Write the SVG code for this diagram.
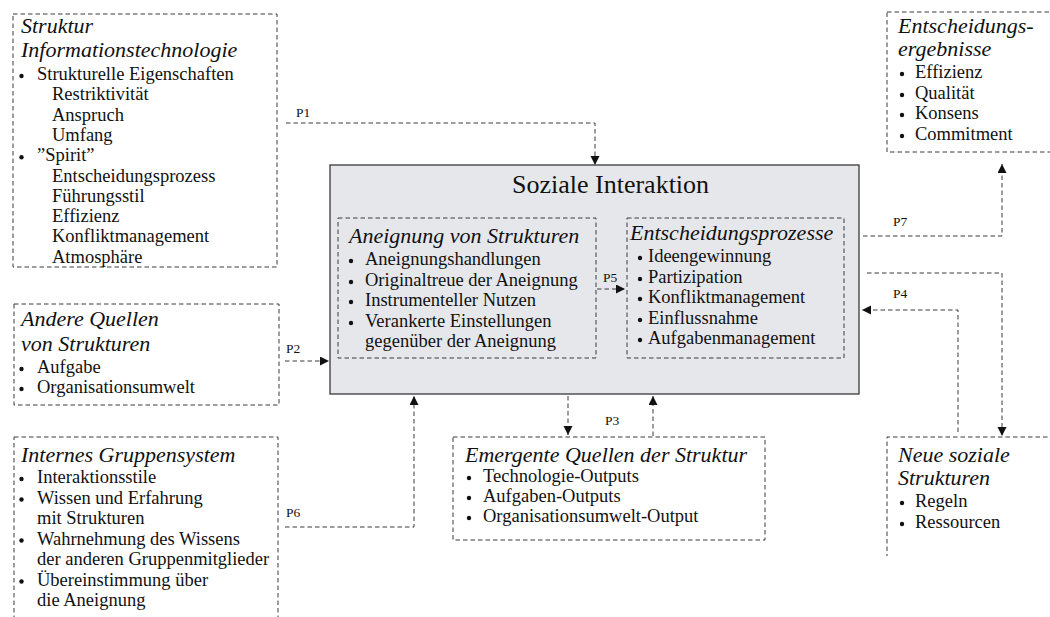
<svg xmlns="http://www.w3.org/2000/svg" width="1050" height="617" viewBox="0 0 1050 617">
<style>
.box{fill:none;stroke:#3a3a3a;stroke-width:1;stroke-dasharray:4.5 3}
.main{fill:#e6e7eb;stroke:#3a3a3a;stroke-width:1.3}
.t{font-family:"Liberation Serif",serif;font-size:18.5px;fill:#111}
.h{font-family:"Liberation Serif",serif;font-size:22px;font-style:italic;fill:#111}
.big{font-family:"Liberation Serif",serif;font-size:26px;fill:#111}
.p{font-family:"Liberation Serif",serif;font-size:13.5px;fill:#111}
.b{fill:#111}
.c{fill:none;stroke:#3a3a3a;stroke-width:1;stroke-dasharray:4.5 3}
</style>
<defs>
<marker id="ar" markerUnits="userSpaceOnUse" markerWidth="10" markerHeight="10" refX="9" refY="4.5" orient="auto">
<path d="M0,0 L9,4.5 L0,9 z" fill="#111"/>
</marker>
</defs>

<g id="struktur-it">
<rect class="box" x="13" y="14" width="264" height="253"/>
<text class="h" x="21" y="33">Struktur</text>
<text class="h" x="21" y="57">Informationstechnologie</text>
<circle class="b" cx="21.5" cy="76" r="2.2"/>
<text class="t" x="37" y="80">Strukturelle Eigenschaften</text>
<text class="t" x="52" y="100.3">Restriktivität</text>
<text class="t" x="52" y="120.6">Anspruch</text>
<text class="t" x="52" y="140.9">Umfang</text>
<circle class="b" cx="21.5" cy="157.2" r="2.2"/>
<text class="t" x="37" y="161.2">”Spirit”</text>
<text class="t" x="52" y="181.5">Entscheidungsprozess</text>
<text class="t" x="52" y="201.8">Führungsstil</text>
<text class="t" x="52" y="222.1">Effizienz</text>
<text class="t" x="52" y="242.4">Konfliktmanagement</text>
<text class="t" x="52" y="262.7">Atmosphäre</text>
</g>

<g id="andere-quellen">
<rect class="box" x="14" y="304" width="265" height="101"/>
<text class="h" x="21" y="326">Andere Quellen</text>
<text class="h" x="21" y="351">von Strukturen</text>
<circle class="b" cx="21.5" cy="369" r="2.2"/>
<text class="t" x="37" y="373">Aufgabe</text>
<circle class="b" cx="21.5" cy="389" r="2.2"/>
<text class="t" x="37" y="393">Organisationsumwelt</text>
</g>

<g id="internes-gruppensystem">
<rect class="box" x="14" y="437" width="264" height="195"/>
<text class="h" x="21" y="462">Internes Gruppensystem</text>
<circle class="b" cx="21.5" cy="479" r="2.2"/>
<text class="t" x="37" y="483">Interaktionsstile</text>
<circle class="b" cx="21.5" cy="499.5" r="2.2"/>
<text class="t" x="37" y="503.5">Wissen und Erfahrung</text>
<text class="t" x="37" y="524">mit Strukturen</text>
<circle class="b" cx="21.5" cy="540.5" r="2.2"/>
<text class="t" x="37" y="544.5">Wahrnehmung des Wissens</text>
<text class="t" x="37" y="565">der anderen Gruppenmitglieder</text>
<circle class="b" cx="21.5" cy="581.5" r="2.2"/>
<text class="t" x="37" y="585.5">Übereinstimmung über</text>
<text class="t" x="37" y="606">die Aneignung</text>
</g>

<g id="soziale-interaktion">
<rect class="main" x="330" y="165" width="529" height="229"/>
<text class="big" x="512" y="193">Soziale Interaktion</text>
</g>

<g id="aneignung">
<rect class="box" x="338" y="218" width="258" height="140"/>
<text class="h" x="349" y="243">Aneignung von Strukturen</text>
<circle class="b" cx="351" cy="261" r="2.2"/>
<text class="t" x="365" y="265">Aneignungshandlungen</text>
<circle class="b" cx="351" cy="282" r="2.2"/>
<text class="t" x="365" y="286">Originaltreue der Aneignung</text>
<circle class="b" cx="351" cy="302" r="2.2"/>
<text class="t" x="365" y="306">Instrumenteller Nutzen</text>
<circle class="b" cx="351" cy="323" r="2.2"/>
<text class="t" x="365" y="327">Verankerte Einstellungen</text>
<text class="t" x="365" y="347">gegenüber der Aneignung</text>
</g>

<g id="entscheidungsprozesse">
<rect class="box" x="627" y="218" width="217" height="140"/>
<text class="h" x="630" y="240">Entscheidungsprozesse</text>
<circle class="b" cx="640" cy="258" r="2.2"/>
<text class="t" x="648" y="262">Ideengewinnung</text>
<circle class="b" cx="640" cy="279" r="2.2"/>
<text class="t" x="648" y="283">Partizipation</text>
<circle class="b" cx="640" cy="299" r="2.2"/>
<text class="t" x="648" y="303">Konfliktmanagement</text>
<circle class="b" cx="640" cy="320" r="2.2"/>
<text class="t" x="648" y="324">Einflussnahme</text>
<circle class="b" cx="640" cy="340" r="2.2"/>
<text class="t" x="648" y="344">Aufgabenmanagement</text>
</g>

<g id="emergente-quellen">
<rect class="box" x="453" y="437" width="312" height="103"/>
<text class="h" x="465" y="462">Emergente Quellen der Struktur</text>
<circle class="b" cx="469" cy="478" r="2.2"/>
<text class="t" x="483" y="482">Technologie-Outputs</text>
<circle class="b" cx="469" cy="498" r="2.2"/>
<text class="t" x="483" y="502">Aufgaben-Outputs</text>
<circle class="b" cx="469" cy="518" r="2.2"/>
<text class="t" x="483" y="522">Organisationsumwelt-Output</text>
</g>

<g id="entscheidungsergebnisse">
<rect class="box" x="887" y="12" width="200" height="140"/>
<text class="h" x="898" y="33">Entscheidungs-</text>
<text class="h" x="898" y="56">ergebnisse</text>
<circle class="b" cx="902" cy="74" r="2.2"/>
<text class="t" x="915" y="78">Effizienz</text>
<circle class="b" cx="902" cy="95" r="2.2"/>
<text class="t" x="915" y="99">Qualität</text>
<circle class="b" cx="902" cy="115" r="2.2"/>
<text class="t" x="915" y="119">Konsens</text>
<circle class="b" cx="902" cy="136" r="2.2"/>
<text class="t" x="915" y="140">Commitment</text>
</g>

<g id="neue-soziale-strukturen">
<path class="box" d="M1055,437 H887 V556"/>
<text class="h" x="898" y="462">Neue soziale</text>
<text class="h" x="898" y="485">Strukturen</text>
<circle class="b" cx="902" cy="503" r="2.2"/>
<text class="t" x="915" y="507">Regeln</text>
<circle class="b" cx="902" cy="524" r="2.2"/>
<text class="t" x="915" y="528">Ressourcen</text>
</g>

<g id="connectors">
<path class="c" d="M286,123 H595 V165" marker-end="url(#ar)"/>
<text class="p" x="296" y="117">P1</text>
<path class="c" d="M285,361 H329" marker-end="url(#ar)"/>
<text class="p" x="286" y="353">P2</text>
<path class="c" d="M568,396 V435" marker-end="url(#ar)"/>
<path class="c" d="M653,436 V396" marker-end="url(#ar)"/>
<text class="p" x="605" y="425">P3</text>
<path class="c" d="M958,432 V310 H862" marker-end="url(#ar)"/>
<text class="p" x="893" y="298">P4</text>
<path class="c" d="M597,289 H625" marker-end="url(#ar)"/>
<text class="p" x="603" y="282">P5</text>
<path class="c" d="M285,527 H414 V396" marker-end="url(#ar)"/>
<text class="p" x="286" y="517">P6</text>
<path class="c" d="M863,236 H1002 V164" marker-end="url(#ar)"/>
<text class="p" x="893" y="226">P7</text>
<path class="c" d="M867,273 H1002 V436" marker-end="url(#ar)"/>
</g>
</svg>
